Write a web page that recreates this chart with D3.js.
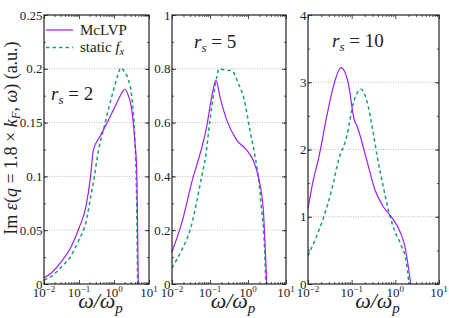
<!DOCTYPE html>
<html>
<head>
<meta charset="utf-8">
<script src="https://cdn.jsdelivr.net/npm/d3@7"></script>
<style>
  body { margin: 0; background: #fff; }
  svg text { font-family: "Liberation Serif", "DejaVu Serif", serif; fill: #222; }
</style>
</head>
<body>
<div id="chart"></div>
<script>
// omega / omega_p values and Im eps
var omegaA1 = [0.01, 0.0158, 0.0316, 0.0562, 0.1, 0.158, 0.214, 0.257, 0.398, 0.617, 1.0, 1.32, 1.78, 2.04, 2.51, 3.21, 3.98, 4.46, 4.73, 4.94];
var mclvpA  = [0.0058, 0.010, 0.021, 0.033, 0.052, 0.072, 0.100, 0.1245, 0.137, 0.149, 0.163, 0.171, 0.179, 0.181, 0.176, 0.162, 0.131, 0.106, 0.05, 0];
var omegaA2 = [0.01, 0.0158, 0.0316, 0.0562, 0.1, 0.133, 0.158, 0.2, 0.275, 0.355, 0.553, 0.859, 1.26, 1.58, 2.0, 2.57, 3.21, 3.98, 4.37, 4.73];
var staticA = [0.0037, 0.0068, 0.016, 0.025, 0.041, 0.05, 0.057, 0.075, 0.100, 0.123, 0.149, 0.174, 0.193, 0.201, 0.197, 0.19, 0.174, 0.131, 0.09, 0];

var omegaB1 = [0.01, 0.018, 0.0363, 0.0493, 0.0818, 0.111, 0.144, 0.183, 0.275, 0.505, 0.925, 1.35, 1.87, 2.53, 2.80, 2.99, 3.09];
var mclvpB  = [0.12, 0.226, 0.399, 0.461, 0.585, 0.696, 0.758, 0.696, 0.61, 0.535, 0.498, 0.461, 0.399, 0.275, 0.151, 0.06, 0];
var omegaB2 = [0.01, 0.018, 0.0298, 0.0604, 0.0759, 0.1, 0.122, 0.151, 0.173, 0.251, 0.372, 0.556, 0.8, 1.08, 1.55, 1.86, 2.29, 2.69, 2.95];
var staticB = [0.06, 0.126, 0.2, 0.399, 0.47, 0.61, 0.696, 0.77, 0.80, 0.795, 0.793, 0.746, 0.684, 0.585, 0.47, 0.40, 0.275, 0.151, 0];

var omegaC1 = [0.01, 0.0132, 0.0174, 0.0268, 0.038, 0.057, 0.0838, 0.115, 0.130, 0.221, 0.342, 0.531, 0.824, 1.28, 1.66, 1.98, 2.25];
var mclvpC  = [1.12, 1.546, 1.86, 2.488, 2.934, 3.217, 2.984, 2.439, 2.364, 1.844, 1.398, 1.149, 0.991, 0.778, 0.555, 0.257, 0];
var omegaC2 = [0.01, 0.0145, 0.0224, 0.0348, 0.0501, 0.0769, 0.109, 0.164, 0.240, 0.313, 0.398, 0.531, 0.692, 0.984, 1.40, 1.75, 2.06];
var staticC = [0.42, 0.654, 0.977, 1.398, 1.844, 2.19, 2.687, 2.895, 2.637, 2.24, 1.844, 1.447, 1.1, 0.778, 0.555, 0.357, 0];

var yTicksA = [0, 0.05, 0.1, 0.15, 0.2, 0.25];
var yTicksB = [0, 0.2, 0.4, 0.6, 0.8, 1];
var yTicksC = [0, 1, 2, 3, 4];
var omegaTicks = [0.01, 0.1, 1, 10];
var omegaExp = ["\u22122", "\u22121", "0", "1"];
var rsLabels = ["2", "5", "10"];

var width = 449, height = 318, plotTop = 15, plotBottom = 284;
var purple = "#a020f0", green = "#1b9e77";

var svg = d3.select("#chart").append("svg")
    .attr("width", width)
    .attr("height", height)

var panels = [
    { left: 44, right: 149, yMax: 0.25, ticks: yTicksA, minorStep: 0.025, o1: omegaA1, m: mclvpA, o2: omegaA2, s: staticA, rs: rsLabels[0], lab: [51, 100] },
    { left: 172, right: 286, yMax: 1, ticks: yTicksB, minorStep: 0.1, o1: omegaB1, m: mclvpB, o2: omegaB2, s: staticB, rs: rsLabels[1], lab: [194, 48] },
    { left: 308, right: 439, yMax: 4, ticks: yTicksC, minorStep: 0.5, o1: omegaC1, m: mclvpC, o2: omegaC2, s: staticC, rs: rsLabels[2], lab: [332, 47] }
];

var minorOmega = [];
[0.01, 0.1, 1].forEach(function (dec) {
    for (var k = 2; k <= 9; k++) minorOmega.push(dec * k);
});

panels.forEach(function (p) {
    var x = d3.scaleLog().domain([0.01, 10]).range([p.left, p.right]);
    var y = d3.scaleLinear().domain([0, p.yMax]).range([plotBottom, plotTop]);
    var g = svg.append("g");

    // dotted grid on inner major ticks
    g.selectAll("line.grid")
        .data(p.ticks.slice(1, -1))
        .enter().append("line")
        .attr("class", "grid")
        .attr("x1", p.left).attr("x2", p.right)
        .attr("y1", function (d) { return y(d) }).attr("y2", function (d) { return y(d) })
        .attr("stroke", "#aaa")
        .attr("stroke-width", 0.8)
        .attr("stroke-dasharray", "1,1.5")

    // curves
    var line = d3.line()
        .x(function (d) { return x(d[0]) })
        .y(function (d) { return y(d[1]) })
        .curve(d3.curveMonotoneX)

    g.append("path")
        .datum(d3.zip(p.o2, p.s))
        .attr("d", line)
        .attr("fill", "none")
        .attr("stroke", green)
        .attr("stroke-width", 1.5)
        .attr("stroke-dasharray", "3.5,3")

    g.append("path")
        .datum(d3.zip(p.o1, p.m))
        .attr("d", line)
        .attr("fill", "none")
        .attr("stroke", purple)
        .attr("stroke-width", 1.2)

    // ticks, pointing inward, on all four sides
    var yMinor = d3.range(0, p.yMax + 1e-9, p.minorStep);
    function tickSet(axis, values, size) {
        return axis.tickValues(values).tickSize(size).tickFormat("").tickSizeOuter(0);
    }
    [[d3.axisBottom, plotBottom], [d3.axisTop, plotTop]].forEach(function (a) {
        g.append("g").attr("transform", "translate(0," + a[1] + ")")
            .call(tickSet(a[0](x), minorOmega, -2))
        g.append("g").attr("transform", "translate(0," + a[1] + ")")
            .call(tickSet(a[0](x), omegaTicks, -4))
    });
    [[d3.axisLeft, p.left], [d3.axisRight, p.right]].forEach(function (a) {
        g.append("g").attr("transform", "translate(" + a[1] + ",0)")
            .call(tickSet(a[0](y), yMinor, -2))
        g.append("g").attr("transform", "translate(" + a[1] + ",0)")
            .call(tickSet(a[0](y), p.ticks, -4))
    });
    g.selectAll(".domain").remove();
    g.selectAll(".tick line").attr("stroke", "#222").attr("stroke-width", 0.8);

    // frame
    g.append("rect")
        .attr("x", p.left).attr("y", plotTop)
        .attr("width", p.right - p.left).attr("height", plotBottom - plotTop)
        .attr("fill", "none").attr("stroke", "#222").attr("stroke-width", 1.2)

    // y tick labels
    g.selectAll("text.ylab")
        .data(p.ticks)
        .enter().append("text")
        .attr("class", "ylab")
        .attr("x", p.left - 1.5)
        .attr("y", function (d) { return y(d) })
        .attr("dy", "0.35em")
        .attr("text-anchor", "end")
        .style("font-size", "13px")
        .text(function (d) { return String(d) })

    // x tick labels 10^n
    var xl = g.selectAll("text.xlab")
        .data(omegaTicks)
        .enter().append("text")
        .attr("class", "xlab")
        .attr("x", function (d) { return x(d) })
        .attr("y", 297)
        .attr("text-anchor", "middle")
        .style("font-size", "13px")
    xl.append("tspan").text("10")
    xl.append("tspan")
        .attr("dy", -5.5)
        .style("font-size", "9px")
        .text(function (d, i) { return omegaExp[i] })

    // x axis title
    var xt = g.append("text")
        .attr("x", (p.left + p.right) / 2 + 4)
        .attr("y", 308)
        .attr("text-anchor", "middle")
        .style("font-size", "22px")
        .style("font-style", "italic")
    xt.append("tspan").text("\u03c9/\u03c9")
    xt.append("tspan").attr("dy", 5).style("font-size", "15px").text("p")

    // r_s label
    var rl = g.append("text")
        .attr("x", p.lab[0]).attr("y", p.lab[1])
        .style("font-size", "19px")
    rl.append("tspan").style("font-style", "italic").text("r")
    rl.append("tspan").attr("dy", 4).style("font-size", "13px").style("font-style", "italic").text("s")
    rl.append("tspan").attr("dy", -4).text(" = " + p.rs)
});

// legend in the first panel
var legend = svg.append("g");
legend.append("line")
    .attr("x1", 46).attr("x2", 73).attr("y1", 30).attr("y2", 30)
    .attr("stroke", purple).attr("stroke-width", 1.2)
legend.append("line")
    .attr("x1", 46).attr("x2", 73).attr("y1", 47.5).attr("y2", 47.5)
    .attr("stroke", green).attr("stroke-width", 1.5).attr("stroke-dasharray", "3.5,3")
legend.append("text")
    .attr("x", 80).attr("y", 35)
    .style("font-size", "15px")
    .text("McLVP")
var st = legend.append("text")
    .attr("x", 80).attr("y", 52)
    .style("font-size", "15px")
st.append("tspan").text("static ")
st.append("tspan").style("font-style", "italic").text("f")
st.append("tspan").attr("dy", 3).style("font-size", "10.5px").style("font-style", "italic").text("x")

// y axis title
var yt = svg.append("text")
    .attr("transform", "translate(17,138) rotate(-90)")
    .attr("text-anchor", "middle")
    .style("font-size", "18px")
yt.append("tspan").text("Im ")
yt.append("tspan").style("font-style", "italic").text("\u03b5")
yt.append("tspan").text("(")
yt.append("tspan").style("font-style", "italic").text("q")
yt.append("tspan").text(" = 1.8 \u00d7 ")
yt.append("tspan").style("font-style", "italic").text("k")
yt.append("tspan").attr("dy", 3).style("font-size", "12.5px").style("font-style", "italic").text("F")
yt.append("tspan").attr("dy", -3).text(", ")
yt.append("tspan").style("font-style", "italic").text("\u03c9")
yt.append("tspan").text(") (a.u.)")
</script>
</body>
</html>
